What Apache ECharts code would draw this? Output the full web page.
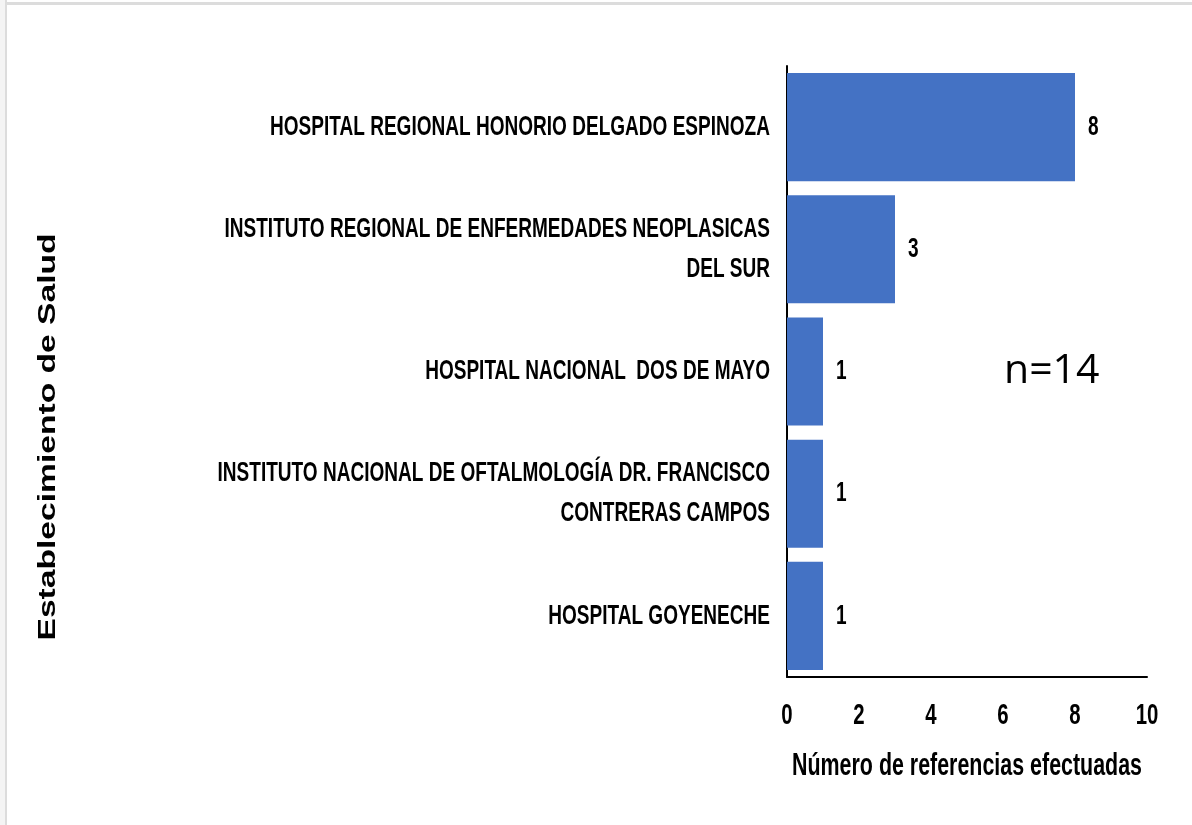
<!DOCTYPE html>
<html><head><meta charset="utf-8">
<script src="https://cdn.jsdelivr.net/npm/echarts@6/dist/echarts.min.js"></script>
<style>
html,body{margin:0;padding:0;background:#fff;}
#frame{position:absolute;left:0;top:0;width:1192px;height:825px;background:#fff;}
#frame:before{content:"";position:absolute;left:0;top:0;width:7px;height:825px;background:linear-gradient(to right,#f4f4f4 0,#f4f4f4 5px,#dcdcdc 5px,#dcdcdc 7px);}
#frame:after{content:"";position:absolute;left:5px;top:2px;width:1187px;height:3px;background:#dcdcdc;}
#chart{position:absolute;left:0;top:0;width:1192px;height:825px;}
</style></head>
<body><div id="frame"></div><div id="chart"></div>
<script>
const categories = [
  "HOSPITAL REGIONAL HONORIO DELGADO ESPINOZA",
  "INSTITUTO REGIONAL DE ENFERMEDADES NEOPLASICAS\nDEL SUR",
  "HOSPITAL NACIONAL  DOS DE MAYO",
  "INSTITUTO NACIONAL DE OFTALMOLOGÍA DR. FRANCISCO\nCONTRERAS CAMPOS",
  "HOSPITAL GOYENECHE"
];
const values = [8, 3, 1, 1, 1];
const xTicks = [0, 2, 4, 6, 8, 10];
const xAxisTitle = "Número de referencias efectuadas";
const yAxisTitle = "Establecimiento de Salud";
const note = "n=14";

const font = '"Liberation Sans", Arial, sans-serif';
const chart = echarts.init(document.getElementById('chart'));
chart.setOption({
  animation: false,
  grid: {left: 787, right: 45, top: 66, bottom: 148, containLabel: false, outerBoundsMode: 'none'},
  xAxis: {
    type: 'value', min: xTicks[0], max: xTicks[xTicks.length-1], interval: 2,
    axisLine: {show: true, lineStyle: {color: '#000', width: 2}},
    axisTick: {show: false},
    splitLine: {show: false},
    axisLabel: {color: '#000', fontFamily: font, fontWeight: 'bold', fontSize: 30, margin: 24, hideOverlap: false},
    name: xAxisTitle, nameLocation: 'middle', nameGap: 73,
    nameTextStyle: {color: '#000', fontFamily: font, fontWeight: 'bold', fontSize: 31.5}
  },
  yAxis: {
    type: 'category', data: categories, inverse: true,
    axisLine: {show: true, lineStyle: {color: '#000', width: 2}},
    axisTick: {show: false},
    axisLabel: {color: '#000', fontFamily: font, fontWeight: 'bold', fontSize: 28, lineHeight: 40, margin: 17, align: 'right', interval: 0}
  },
  series: [{
    type: 'bar', data: values, barCategoryGap: '11.5%',
    itemStyle: {color: '#4472C4'},
    label: {show: true, position: 'right', distance: 13, color: '#000', fontFamily: font, fontWeight: 'bold', fontSize: 28}
  }],
  graphic: [
    {type: 'text', left: 1004, top: 351, style: {text: note, fill: '#000', font: '41px "Open Sans", "Noto Sans", sans-serif'}},
    {type: 'text', x: 48, y: 437, rotation: Math.PI/2, scaleX: 1.4,
     style: {text: yAxisTitle, fill: '#000', font: 'bold 24px "Liberation Sans", Arial, sans-serif', align: 'center', verticalAlign: 'middle'}}
  ]
});

// Condense the bold texts horizontally (reference uses a condensed bold face)
const narrowSet = new Set([].concat(categories, xTicks.map(String), values.map(String), [xAxisTitle]));
const SX = 0.68;
function condense(t) {
  if (!t || t.type !== 'text' || !t.style || !narrowSet.has(String(t.style.text))) return;
  t.scaleX = SX;
  if (t.innerTransformable) t.innerTransformable.scaleX = SX;
  t.markRedraw();
}
function visit(el) {
  condense(el);
  if (el.getTextContent) condense(el.getTextContent());
}
const zr = chart.getZr();
zr.storage.getRoots().forEach(function (root) {
  visit(root);
  if (root.traverse) root.traverse(visit);
});
zr.refreshImmediately();
</script></body></html>
